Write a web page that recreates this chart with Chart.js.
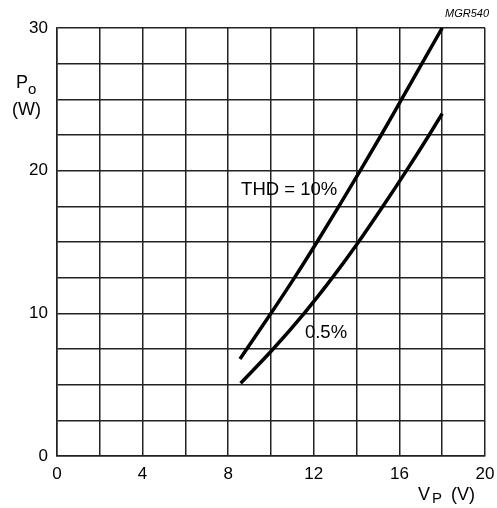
<!DOCTYPE html>
<html>
<head>
<meta charset="utf-8">
<script src="https://cdn.jsdelivr.net/npm/chart.js@4/dist/chart.umd.min.js"></script>
<style>
  html, body { margin: 0; padding: 0; background: #fff; }
  #wrap { width: 497px; height: 508px; position: relative; }
</style>
</head>
<body>
<div id="wrap"><canvas id="grafico"></canvas></div>
<script>
// curva THD = 10%
const vp10 = [8.55, 10, 11.1, 12.15, 13.17, 14.17, 15.15, 16.1, 17.05, 18];
const po10 = [6.8, 10, 12.5, 15, 17.5, 20, 22.5, 25, 27.5, 30];
// curva THD = 0.5%
const vp05 = [8.58, 10.1, 11.55, 12.87, 14.09, 15.23, 16.33, 17.39, 18];
const po05 = [5.1, 7.5, 10, 12.5, 15, 17.5, 20, 22.5, 24];

const xLabels = [0, 4, 8, 12, 16, 20];
const yLabels = [0, 10, 20, 30];
const curveLabels = ["THD = 10%", "0.5%"];

const FONT = "'Liberation Sans', Arial, Helvetica, sans-serif";
const GRID = "#222";

function pontos(xs, ys) {
  return xs.map((x, i) => ({ x, y: ys[i] }));
}

const textos = {
  id: "textos",
  afterDraw(chart) {
    const { ctx } = chart;
    const sx = chart.scales.x;
    const sy = chart.scales.y;
    ctx.save();
    ctx.fillStyle = "#000";

    // etiquetas das curvas
    ctx.font = `18.5px ${FONT}`;
    ctx.textAlign = "center";
    ctx.textBaseline = "middle";
    ctx.fillText(curveLabels[0], sx.getPixelForValue(10.85), sy.getPixelForValue(18.64));
    ctx.fillText(curveLabels[1], sx.getPixelForValue(12.57), sy.getPixelForValue(8.62));

    // titulo eixo y
    ctx.textAlign = "left";
    ctx.textBaseline = "alphabetic";
    ctx.font = `18px ${FONT}`;
    ctx.fillText("P", 16, 88);
    ctx.font = `15px ${FONT}`;
    ctx.fillText("o", 28, 94);
    ctx.font = `18px ${FONT}`;
    ctx.fillText("(W)", 12, 115);

    // titulo eixo x
    ctx.fillText("V", 418, 500);
    ctx.font = `15px ${FONT}`;
    ctx.fillText("P", 432, 503);
    ctx.font = `18px ${FONT}`;
    ctx.fillText("(V)", 451, 500);

    // referencia
    ctx.font = `italic 11px ${FONT}`;
    ctx.textAlign = "right";
    ctx.fillText("MGR540", 489, 17);
    ctx.restore();
  }
};

new Chart(document.getElementById("grafico"), {
  type: "line",
  data: {
    datasets: [
      {
        label: curveLabels[0],
        data: pontos(vp10, po10),
        borderColor: "#000",
        borderWidth: 3.5,
        pointRadius: 0,
        cubicInterpolationMode: "monotone",
        fill: false
      },
      {
        label: curveLabels[1],
        data: pontos(vp05, po05),
        borderColor: "#000",
        borderWidth: 3.5,
        pointRadius: 0,
        cubicInterpolationMode: "monotone",
        fill: false
      }
    ]
  },
  options: {
    responsive: true,
    maintainAspectRatio: false,
    animation: false,
    layout: { padding: { left: 0, top: 28, right: 12, bottom: 0 } },
    plugins: { legend: { display: false }, tooltip: { enabled: false } },
    scales: {
      x: {
        type: "linear",
        min: 0,
        max: 20,
        afterFit(scale) {
          scale.height = 52;
          scale.paddingLeft = 0;
          scale.paddingRight = 0;
        },
        border: { color: GRID, width: 1.5 },
        grid: { color: GRID, lineWidth: 1.5, drawTicks: false },
        ticks: {
          stepSize: 2,
          padding: 8,
          maxRotation: 0,
          autoSkip: false,
          color: "#000",
          font: { family: FONT, size: 17 },
          callback: v => (xLabels.includes(v) ? String(v) : "")
        }
      },
      y: {
        type: "linear",
        min: 0,
        max: 30,
        afterFit(scale) {
          scale.width = 57;
          scale.paddingTop = 0;
          scale.paddingBottom = 0;
        },
        border: { color: GRID, width: 1.5 },
        grid: { color: GRID, lineWidth: 1.5, drawTicks: false },
        ticks: {
          stepSize: 2.5,
          padding: 9,
          autoSkip: false,
          color: "#000",
          font: { family: FONT, size: 17 },
          callback: v => (yLabels.includes(v) ? String(v) : "")
        }
      }
    }
  },
  plugins: [textos]
});
</script>
</body>
</html>
